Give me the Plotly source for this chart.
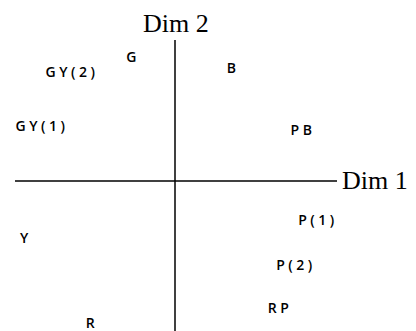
import plotly.graph_objects as go

# Point labels and their coordinates on the two dimensions
labels = ["G", "GY(2)", "B", "GY(1)", "PB", "Y", "P(1)", "P(2)", "RP", "R"]
dim1 = [-0.84, -2.06, 1.16, -2.66, 2.56, -2.98, 2.86, 2.42, 2.10, -1.66]
dim2 = [2.46, 2.16, 2.24, 1.08, 1.00, -1.16, -0.80, -1.70, -2.56, -2.87]

# Axis extents
h_axis_x = [-3.2, 3.24]
v_axis_y = [2.82, -3.1]
x_range = [-3.34, 4.82]
y_range = [-3.0, 3.46]

fig = go.Figure()

fig.add_trace(go.Scatter(x=h_axis_x, y=[0, 0], mode="lines",
                         line=dict(color="black", width=1.5), hoverinfo="skip"))
fig.add_trace(go.Scatter(x=[0, 0], y=v_axis_y, mode="lines",
                         line=dict(color="black", width=1.5), hoverinfo="skip"))

fig.add_trace(go.Scatter(x=dim1, y=dim2, mode="text", text=labels,
                         textposition="middle center",
                         textfont=dict(family="Open Sans", size=14, color="black", weight=600)))

fig.add_annotation(x=0.02, y=3.16, text="Dim 2", showarrow=False,
                   xanchor="center", yanchor="middle",
                   font=dict(family="Liberation Serif", size=26, color="black"))
fig.add_annotation(x=3.3, y=0.02, text="Dim 1", showarrow=False,
                   xanchor="left", yanchor="middle",
                   font=dict(family="Liberation Serif", size=26, color="black"))

fig.update_layout(
    width=408, height=323,
    margin=dict(l=0, r=0, t=0, b=0),
    paper_bgcolor="white", plot_bgcolor="white",
    showlegend=False,
    xaxis=dict(range=x_range, visible=False, fixedrange=True),
    yaxis=dict(range=y_range, visible=False, fixedrange=True),
)

spacing_js = (
    "document.querySelectorAll('.textpoint text').forEach(function(t){"
    "t.style.letterSpacing='3.5px';});"
)

fig.write_html("out.html", post_script=spacing_js)
